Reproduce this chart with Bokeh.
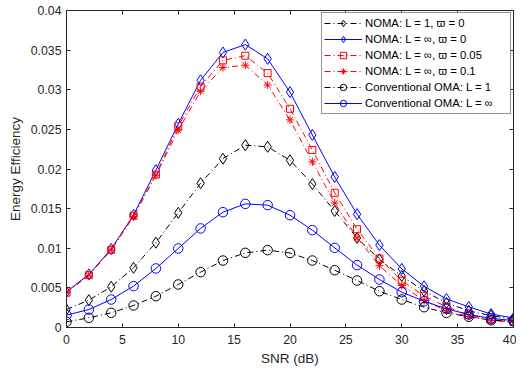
from bokeh.plotting import figure
from bokeh.models import LinearAxis, FixedTicker, Range1d, CustomJSTickFormatter, Legend
from bokeh.embed import file_html
from bokeh.resources import INLINE

snr = [0, 2, 4, 6, 8, 10, 12, 14, 16, 18, 20, 22, 24, 26, 28, 30, 32, 34, 36, 38, 40]

noma_L1 = [0.00227, 0.00345, 0.00514, 0.00753, 0.0107, 0.01447, 0.0182, 0.0213, 0.0230, 0.0228, 0.0211,
           0.0181, 0.0147, 0.0113, 0.0086, 0.0065, 0.0046, 0.0031, 0.0021, 0.0015, 0.00105]
noma_inf = [0.0045, 0.0067, 0.0099, 0.0142, 0.01985, 0.0257, 0.0312, 0.0347, 0.0357, 0.0339, 0.0297,
            0.0243, 0.0190, 0.0143, 0.0104, 0.0074, 0.0052, 0.0036, 0.0026, 0.0017, 0.0012]
noma_inf_005 = [0.0044, 0.0066, 0.0098, 0.0141, 0.0193, 0.0254, 0.0304, 0.0337, 0.0343, 0.0321, 0.0276,
                0.0224, 0.0170, 0.0124, 0.0087, 0.0059, 0.0040, 0.0026, 0.0016, 0.0010, 0.0007]
noma_inf_01 = [0.0044, 0.0066, 0.0098, 0.0140, 0.0192, 0.0249, 0.0298, 0.0328, 0.0331, 0.0306, 0.0262,
               0.0209, 0.0157, 0.0113, 0.0078, 0.0053, 0.0034, 0.0021, 0.0014, 0.0009, 0.00065]
oma_L1 = [0.00072, 0.00122, 0.00185, 0.00278, 0.00395, 0.00543, 0.00698, 0.00845, 0.00942, 0.00976, 0.0094,
          0.00845, 0.00723, 0.00593, 0.00458, 0.00353, 0.00256, 0.00185, 0.00135, 0.00092, 0.0008]
oma_inf = [0.00156, 0.00227, 0.00353, 0.00522, 0.00745, 0.00997, 0.0125, 0.01455, 0.0156, 0.01544, 0.01417,
           0.01228, 0.01005, 0.00787, 0.00606, 0.00446, 0.00332, 0.00236, 0.00164, 0.00114, 0.00088]

x_ticks = [0, 5, 10, 15, 20, 25, 30, 35, 40]
y_ticks = [0, 0.005, 0.01, 0.015, 0.02, 0.025, 0.03, 0.035, 0.04]
y_tick_labels = ["0", "0.005", "0.01", "0.015", "0.02", "0.025", "0.03", "0.035", "0.04"]

labels = ["NOMA: L = 1, \u03d6 = 0", "NOMA: L = \u221e, \u03d6 = 0", "NOMA: L = \u221e, \u03d6 = 0.05",
          "NOMA: L = \u221e, \u03d6 = 0.1", "Conventional OMA: L = 1", "Conventional OMA: L = \u221e"]

FONT = "Liberation Sans"
TXT = "#262626"

p = figure(frame_width=447, frame_height=317, output_backend="svg", toolbar_location=None,
           x_range=Range1d(0, 40), y_range=Range1d(0, 0.04),
           min_border_left=66, min_border_right=3, min_border_top=10, min_border_bottom=36)
p.background_fill_color = "white"
p.border_fill_color = "white"
p.grid.visible = False
p.outline_line_color = TXT
p.outline_line_width = 1

for ax in (p.xaxis[0], p.yaxis[0]):
    ax.major_tick_in = 4
    ax.major_tick_out = 0
    ax.minor_tick_in = 0
    ax.minor_tick_out = 0
    ax.axis_line_color = TXT
    ax.major_tick_line_color = TXT
    ax.major_label_text_font = FONT
    ax.major_label_text_font_size = "12.3px"
    ax.major_label_text_color = TXT
    ax.axis_label_text_font = FONT
    ax.axis_label_text_font_size = "13.5px"
    ax.axis_label_text_font_style = "normal"
    ax.axis_label_text_color = TXT

p.xaxis[0].ticker = FixedTicker(ticks=x_ticks)
p.yaxis[0].ticker = FixedTicker(ticks=y_ticks)
p.yaxis[0].major_label_overrides = {t: l for t, l in zip(y_ticks, y_tick_labels)}
p.xaxis[0].axis_label = "SNR (dB)"
p.yaxis[0].axis_label = "Energy Efficiency"
p.xaxis[0].major_label_standoff = 7
p.yaxis[0].major_label_standoff = 5
p.xaxis[0].axis_label_standoff = 4
p.yaxis[0].axis_label_standoff = 5

blank = CustomJSTickFormatter(code="return '';")
right = LinearAxis(ticker=FixedTicker(ticks=y_ticks), formatter=blank, major_tick_in=4, major_tick_out=0,
                   minor_tick_in=0, minor_tick_out=0, axis_line_color=TXT, major_tick_line_color=TXT,
                   major_label_standoff=0)
top = LinearAxis(ticker=FixedTicker(ticks=x_ticks), formatter=blank, major_tick_in=4, major_tick_out=0,
                 minor_tick_in=0, minor_tick_out=0, axis_line_color=TXT, major_tick_line_color=TXT,
                 major_label_standoff=0)
p.add_layout(right, "right")
p.add_layout(top, "above")

series = [
    (noma_L1, "black", "6 3 1 3", "diamond", 11, labels[0]),
    (noma_inf, "#0000ff", "solid", "diamond", 11, labels[1]),
    (noma_inf_005, "#ff0000", "6 3 1 3", "square", 7, labels[2]),
    (noma_inf_01, "#ff0000", "6 3 1 3", "asterisk", 8, labels[3]),
    (oma_L1, "black", "6 3 1 3", "circle", 9.5, labels[4]),
    (oma_inf, "#0000ff", "solid", "circle", 9.5, labels[5]),
]

items = []
for ys, color, dash, marker, size, lab in series:
    r1 = p.line(snr, ys, line_color=color, line_width=1, line_dash=dash)
    r2 = p.scatter(snr, ys, marker=marker, size=size, line_color=color, fill_color=None, line_width=1)
    items.append((lab, [r1, r2]))

legend = Legend(items=items, location="top_right")
legend.label_text_font = FONT
legend.label_text_font_size = "11.3px"
legend.label_text_color = "black"
legend.border_line_color = TXT
legend.border_line_width = 1
legend.glyph_width = 38
legend.glyph_height = 16
legend.label_height = 16
legend.label_width = 143
legend.spacing = 0
legend.padding = 2
legend.margin = 2
legend.label_standoff = 3
p.add_layout(legend)

open("out.html", "w").write(file_html(p, INLINE))
